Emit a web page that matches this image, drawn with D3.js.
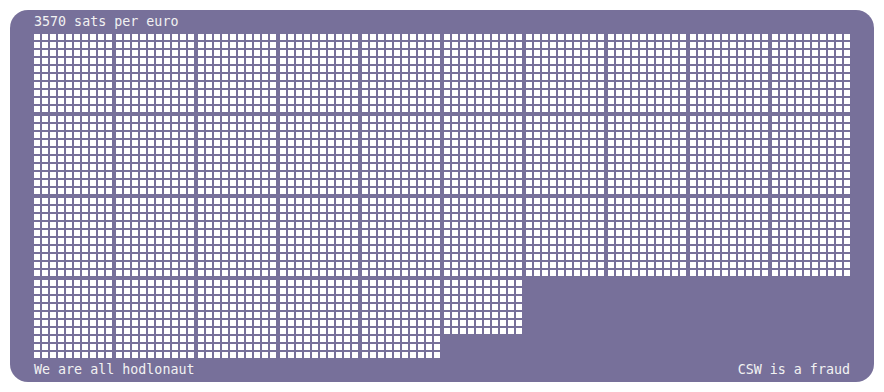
<!DOCTYPE html>
<html>
<head>
<meta charset="utf-8">
<script src="https://cdn.jsdelivr.net/npm/d3@7"></script>
<style>
  html, body { margin: 0; padding: 0; background: #fff; }
  svg { display: block; }
</style>
</head>
<body>
<script>
// datos
const satsPerEuro = 3570;
const satsPerBlock = 100;       // cada bloque es 10x10
const blocksPerRow = 10;
const cellsPerSide = 10;
const titleText = `${satsPerEuro} sats per euro`;
const footerLeft = "We are all hodlonaut";
const footerRight = "CSW is a fraud";

const width = 884, height = 392;
const gridLeft = 34, gridTop = 34, gridRight = 850;

const svg = d3.create("svg")
    .attr("width", width)
    .attr("height", height);

// fondo redondeado
svg.append("rect")
    .attr("x", 10)
    .attr("y", 10)
    .attr("width", 864)
    .attr("height", 372)
    .attr("rx", 18)
    .attr("fill", "#77709a");

const nBlocks = Math.ceil(satsPerEuro / satsPerBlock);
const nBlockRows = Math.ceil(nBlocks / blocksPerRow);

// escalas: bloques y celdas dentro del bloque
const bx = d3.scaleBand()
    .domain(d3.range(blocksPerRow))
    .range([gridLeft, gridRight])
    .paddingInner(4 / 82);

const by = d3.scaleBand()
    .domain(d3.range(nBlockRows))
    .range([gridTop, gridTop + nBlockRows * 82 - 4])
    .paddingInner(4 / 82);

const cell = d3.scaleBand()
    .domain(d3.range(cellsPerSide))
    .range([0, bx.bandwidth()])
    .paddingInner(2 / 8);

const sats = d3.range(satsPerEuro).map(i => {
    const b = Math.floor(i / satsPerBlock);
    const k = i % satsPerBlock;
    return {
        bc: b % blocksPerRow,
        br: Math.floor(b / blocksPerRow),
        c: k % cellsPerSide,
        r: Math.floor(k / cellsPerSide)
    };
});

svg.append("g")
    .selectAll("rect")
    .data(sats)
    .join("rect")
    .attr("x", d => bx(d.bc) + cell(d.c))
    .attr("y", d => by(d.br) + cell(d.r))
    .attr("width", cell.bandwidth())
    .attr("height", cell.bandwidth())
    .attr("fill", "#fff")
    .attr("shape-rendering", "crispEdges");

// textos
const font = "13.33px 'DejaVu Sans Mono', monospace";

svg.append("text")
    .attr("x", gridLeft)
    .attr("y", 26)
    .style("font", font)
    .attr("fill", "#f2f2f2")
    .text(titleText);

svg.append("text")
    .attr("x", gridLeft)
    .attr("y", 374)
    .style("font", font)
    .attr("fill", "#f2f2f2")
    .text(footerLeft);

svg.append("text")
    .attr("x", gridRight)
    .attr("y", 374)
    .attr("text-anchor", "end")
    .style("font", font)
    .attr("fill", "#f2f2f2")
    .text(footerRight);

document.body.appendChild(svg.node());
</script>
</body>
</html>
